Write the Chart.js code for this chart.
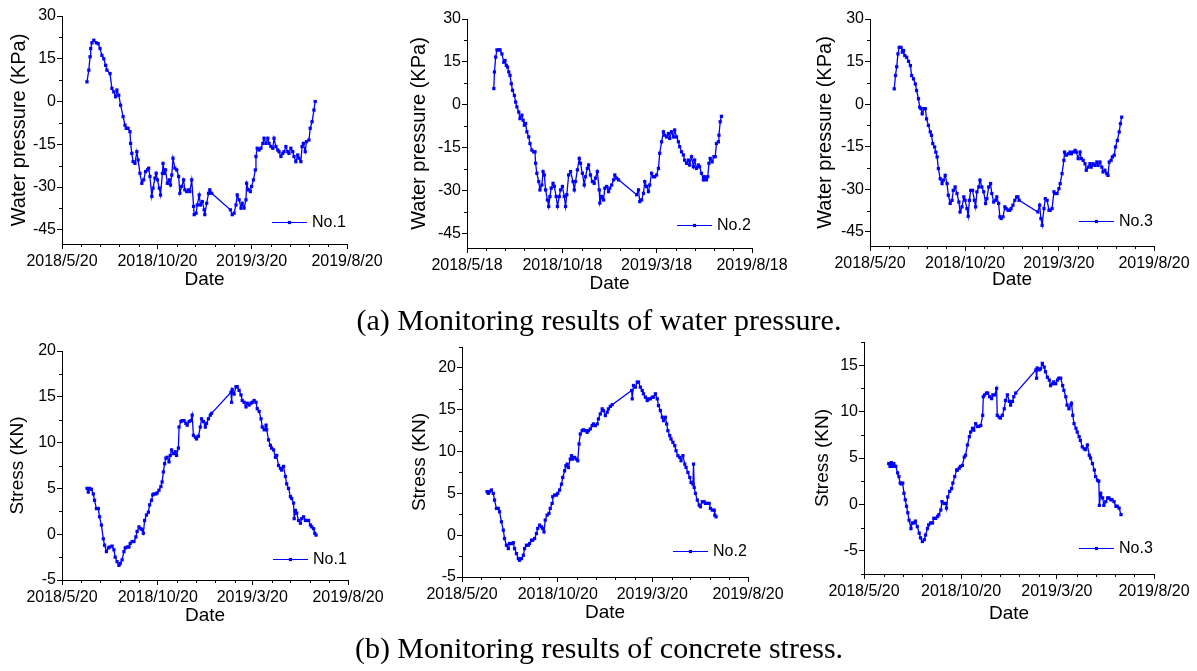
<!DOCTYPE html>
<html>
<head>
<meta charset="utf-8">
<title>Monitoring results</title>
<script src="https://cdn.jsdelivr.net/npm/chart.js@4.4.1/dist/chart.umd.min.js"></script>
<style>
  html, body { margin:0; padding:0; background:#fff; }
  body { width:1197px; height:671px; position:relative; overflow:hidden; }
  canvas { position:absolute; }
  .cap { position:absolute; left:0; width:1198px; text-align:center; font-family:"Liberation Serif","Times New Roman",serif; font-size:30px; line-height:30px; color:#000; white-space:nowrap; }
</style>
</head>
<body>
<canvas id="c1"></canvas>
<canvas id="c2"></canvas>
<canvas id="c3"></canvas>
<canvas id="c4"></canvas>
<canvas id="c5"></canvas>
<canvas id="c6"></canvas>
<div class="cap" style="top:305px">(a) Monitoring results of water pressure.</div>
<div class="cap" style="top:633px">(b) Monitoring results of concrete stress.</div>
<script>
// ---------- tick labels ----------
const ticks520 = ['2018/5/20','2018/10/20','2019/3/20','2019/8/20'];
const ticks518 = ['2018/5/18','2018/10/18','2019/3/18','2019/8/18'];
const wpTicks  = [-45,-30,-15,0,15,30];
const st1Ticks = [-5,0,5,10,15,20];
const st2Ticks = [-5,0,5,10,15,20];
const st3Ticks = [-5,0,5,10,15];

// ---------- data (x = days after 2018/5/20) ----------
const wp1Days = [40,43,45,46,48,51,55,58,61,64,67,70,72,77,80,83,86,88,91,94,98,101,103,106,109,110,112,114,117,120,122,125,128,131,134,137,139,141,144,146,149,151,153,156,158,161,162,164,166,169,172,174,176,178,181,184,187,189,192,195,197,200,203,205,208,211,212,215,217,220,222,225,228,229,232,235,237,240,270,273,276,279,281,284,287,289,292,295,296,299,302,304,307,310,311,313,316,319,322,324,327,330,332,335,338,340,343,346,348,351,354,356,359,362,364,367,370,372,375,378,380,383,385,387,390,392,396,398,401,404,406];
const wp1 = [6.9,11,15.7,18.6,20.6,21.5,20.6,20.3,18.6,16.2,15,12.7,11,9.8,4.6,3.4,1.7,4,2.2,-1.3,-5.3,-8.3,-9.4,-9.4,-10.6,-14.7,-18.2,-21.1,-21.7,-17.6,-20.5,-25.2,-28.7,-27.5,-24.6,-24,-23.4,-26.3,-33.3,-30.4,-26.9,-25.2,-27.5,-30.4,-32.8,-25.2,-21.7,-25.2,-24,-28.7,-27.5,-29.3,-25.8,-19.9,-23.4,-24,-26.3,-32.2,-29.8,-27.5,-31,-31.6,-31,-31.6,-27.5,-36.8,-39.7,-39.2,-36.3,-32.8,-36.3,-35.1,-38,-39.7,-35.7,-32.2,-31,-32.2,-38,-39.7,-39.2,-36.3,-32.8,-34.5,-37.4,-35.7,-37.4,-34.5,-28.7,-31,-31.6,-29.8,-27.5,-24,-19.3,-16.4,-17,-16.4,-14.7,-12.9,-14.7,-12.9,-14.7,-15.8,-16.4,-12.9,-15.8,-17,-17.6,-19.3,-18.2,-17.6,-15.8,-17.6,-18.2,-16.4,-17.6,-19.3,-21.1,-18.8,-19.9,-21.1,-15.8,-14.7,-17.6,-14.1,-13.5,-9.4,-7.1,-3,0];

const wp2Days = [41,42,44,46,49,51,54,57,59,61,63,65,67,69,71,74,76,78,81,83,86,88,90,92,94,97,99,102,105,107,108,110,113,115,118,120,122,124,127,129,131,133,136,138,141,143,146,148,151,154,156,158,161,164,168,170,172,175,178,180,183,186,188,191,193,196,199,202,204,207,210,211,214,217,219,222,225,227,230,233,235,238,241,270,273,275,278,281,283,286,289,291,294,297,299,302,305,307,310,313,315,318,321,323,326,329,331,334,337,339,342,345,347,350,353,355,358,361,363,366,369,371,374,377,379,382,384,386,388,391,394,396,398,401,402,404,406];
const wp2 = [5.7,11.5,16.7,19.2,19.2,19.2,17.8,14.9,15.5,13.8,13.2,11.5,10.3,7.4,5.1,3.3,1,-0.7,-2.5,-4.8,-3.6,-5.4,-7.1,-6.5,-9.4,-11.2,-13.5,-15.8,-16.4,-16.4,-20.4,-23.9,-26.8,-29.7,-28,-23.3,-24.5,-29.7,-33.2,-35.5,-32,-29.1,-27.4,-28.5,-32,-35.5,-32,-29.7,-28.5,-32,-35.5,-31.4,-24.5,-23.3,-26.8,-29.7,-26.8,-22.7,-18.7,-20.4,-23.9,-28,-25.1,-22.2,-21,-24.5,-26.8,-27.4,-25.6,-23.3,-29.7,-34.3,-32,-33.2,-29.1,-28.5,-30.3,-29.1,-28,-26.2,-24.5,-25.6,-26.2,-31.4,-29.7,-33.8,-33.2,-30.9,-26.8,-28.5,-30.3,-28,-23.9,-25.1,-25.1,-24.5,-22.2,-16.9,-12.9,-9.4,-10.6,-11.2,-10,-11.7,-9.4,-11.2,-8.8,-11.2,-12.9,-14.6,-16.4,-17.5,-19.3,-20.4,-19.3,-21,-18.1,-21.6,-19.3,-22.2,-21,-21.6,-23.9,-26.2,-25.1,-26.2,-25.1,-20.4,-18.7,-19.9,-18.1,-18.1,-13.5,-12.9,-10.6,-5.9,-4];

const wp3Days = [39,41,43,45,47,50,52,54,56,59,62,65,67,70,73,75,78,80,82,84,87,89,91,94,97,99,101,104,106,108,110,113,116,118,121,124,126,129,132,134,137,140,143,145,148,151,153,156,158,160,162,165,168,170,172,175,177,180,183,186,188,191,194,196,199,202,204,207,209,211,214,217,219,222,225,227,230,233,236,238,240,270,273,275,277,280,282,285,288,290,293,296,298,301,304,306,309,312,313,316,319,322,324,327,330,332,335,338,340,343,346,348,351,354,356,359,362,365,367,370,373,375,378,381,383,385,388,390,393,395,398,401,403,405];
const wp3 = [5.4,10.1,13.2,17.7,20,20,18.3,18.9,17.1,16.5,15.1,13.6,10.1,8.9,7.1,4.8,1.9,-1.1,-1.6,-3.4,-1.6,-1.6,-5.2,-7.5,-9.8,-11,-13.9,-15.1,-16.9,-18.6,-22.7,-26.3,-28,-26.8,-25.1,-28,-32.1,-35,-33.9,-30.4,-29.2,-31.5,-34.5,-38,-36.2,-32.7,-33.9,-36.8,-39.5,-33.9,-30.4,-30.4,-33.9,-36.2,-30.9,-29.2,-26.8,-29.2,-30.9,-35,-33.3,-29.2,-28,-31.5,-34.5,-33.9,-32.7,-35,-39.7,-40.3,-39.7,-36.2,-36.8,-37.4,-37.4,-36.8,-35.6,-33.9,-32.7,-32.7,-33.9,-38,-35.6,-40.3,-42.7,-36.8,-33.3,-33.9,-37.4,-37.4,-36.8,-30.9,-31.5,-31.5,-29.8,-28,-24.5,-19.8,-16.9,-18,-17.5,-16.9,-17.5,-16.9,-16.3,-16.9,-19.2,-16.9,-19.2,-19.8,-21,-23.3,-22.2,-21,-22.2,-21,-21.6,-20.4,-21.6,-20.4,-22.2,-23.9,-23.3,-24.5,-25.1,-20.4,-19.8,-18.6,-18,-15.1,-12.8,-9.8,-6.9,-4.6];

const st1Days = [40,42,44,47,50,52,55,58,60,63,66,68,71,74,76,80,83,85,88,91,93,96,99,101,104,107,109,112,115,118,120,123,126,128,130,132,135,138,140,143,145,147,150,152,155,158,160,162,164,166,168,171,173,175,178,181,183,186,187,190,192,195,198,200,203,206,208,210,213,215,218,221,223,226,229,231,234,237,239,270,271,272,275,278,280,283,286,288,291,294,296,299,302,304,307,310,312,315,318,320,323,326,327,330,333,335,338,341,343,346,349,351,354,357,359,362,365,367,370,371,373,375,378,381,383,386,389,391,394,397,399,402,404,406];
const st1 = [5,4.6,5,4.9,4.4,3.7,2.8,2.8,1.9,1,-0.5,-1.2,-1.9,-1.5,-1.4,-1.3,-1.7,-2.5,-3,-3.4,-3.2,-2.8,-1.9,-1.5,-1.4,-1.4,-1,-0.8,-0.8,-0.3,0.3,0.8,0.6,0.5,0.1,1.5,2.1,2.4,3.2,3.7,4.3,4.4,4.4,4.5,4.8,5.2,5.7,6.8,7.7,8.3,8.4,7.9,8.6,9.2,8.8,9,8.6,9.4,11.7,12.3,12.4,12.4,12.1,11.9,12.3,12.4,13,10.8,10.6,10.4,10.7,11.7,12.6,12.3,11.7,12.1,12.6,13,13.2,15.5,14.4,15.8,15.3,16.1,16.1,15.7,15.2,14.6,14.4,13.9,14.3,14.1,14.3,14.4,14.6,14.4,13.7,13.4,12.6,11.7,11.4,11.9,11.4,10.3,9.7,9.4,9.2,8.4,8.6,7.5,7.2,7,7.4,6.3,5.5,5,4.1,3.9,3.4,1.7,2.6,2.3,1.5,1.2,1.7,1.9,1.5,1.5,1.5,1,0.8,0.6,0.1,-0.1];

const st2Days = [40,42,44,47,50,52,55,58,60,63,66,68,71,74,76,79,82,84,87,90,92,95,98,100,103,106,108,111,113,116,119,121,124,127,129,131,133,136,139,141,144,145,148,151,153,156,159,161,164,166,168,170,173,175,177,180,183,185,187,189,192,194,197,200,202,205,208,210,213,216,218,221,224,226,229,232,234,237,240,271,272,274,277,280,282,285,288,290,293,296,298,301,304,306,309,312,314,317,320,322,325,327,329,332,334,337,340,342,345,348,350,353,356,358,361,364,366,369,370,371,373,376,379,381,384,387,389,392,395,397,400,403,404,406];
const st2 = [5.2,5,5.2,5.4,5,4.2,3.2,3.2,2.8,1.6,0.6,-0.4,-1.2,-1.6,-1,-1,-0.9,-1.6,-2.2,-2.8,-3,-2.8,-2.4,-1.6,-1.2,-1.2,-1,-0.6,-0.6,-0.4,0.2,0.8,1.2,1,0.8,0.4,1.8,2.4,2.6,3.2,3.8,4.6,4.8,4.8,5,5.4,6.1,6.9,7.7,8.3,8.5,8.1,9.1,9.5,9.1,9.3,9.1,8.9,10.9,12.1,12.5,12.6,12.5,12.3,12.5,12.7,13.1,13.3,13.1,13.3,13.9,14.5,15.1,14.9,14.3,14.7,15.1,15.4,15.6,17.3,16.3,17.9,17.7,18.3,18.3,17.7,17.3,16.9,16.5,16.1,16.3,16.3,16.5,16.5,16.9,16.3,15.5,14.9,14.1,13.7,14.1,13.3,12.5,11.9,11.5,11.1,10.7,10.1,9.5,9.3,8.9,9.5,8.5,8.1,7.5,6.9,6.3,6.1,8.5,5.7,5,4.2,3.6,3.4,4,4,3.8,3.8,3.8,3.2,3,3,2.4,2.2];

const st3Days = [39,41,43,45,47,50,53,55,57,59,61,63,65,67,69,71,74,76,79,81,84,87,89,92,95,97,100,102,105,108,110,113,116,118,121,123,126,129,130,132,135,138,140,143,146,147,150,152,155,158,160,163,166,168,171,173,176,179,181,184,187,188,190,193,195,198,201,203,206,209,210,213,215,218,221,223,226,229,231,234,236,239,271,272,273,276,278,281,284,286,289,292,294,297,299,302,305,307,310,313,315,318,320,323,326,327,329,331,334,336,339,341,344,347,349,352,355,357,360,363,365,368,370,371,373,376,378,381,384,386,389,391,394,397,399,402,405];
const st3 = [4.4,4.1,4.5,4.1,4.4,4.1,3.4,3,2.3,2.2,2.3,1.2,0.5,-0.2,-0.9,-1.7,-2.6,-2,-2,-1.8,-2.4,-3.1,-3.6,-4,-3.8,-3.3,-2.6,-2.2,-2,-2,-1.5,-1.5,-1.3,-1.1,-0.6,0.3,0.1,0.1,-0.4,0.8,1.4,1.7,2.3,3,3.7,3.7,3.9,4.1,4.2,5.1,5.3,6.4,7.3,7.8,8.2,8,8.7,8.4,8.4,8.5,9.6,11.6,11.8,12,12,11.6,11.4,11.8,11.8,12.5,9.6,9.4,9.3,9.6,10.3,11.2,11.8,11.1,10.7,11.1,11.6,12,14.5,13.6,14.7,14.5,14.6,15.2,14.8,14.3,13.7,13.4,12.8,13,13.2,13,13.4,13.6,13.6,12.8,12.3,11.6,10.7,10.3,10.7,10.9,9.6,8.7,8.2,7.8,7.3,6.9,6.2,6,5.9,6.4,5.3,5,4.4,3.7,3,2.6,2.5,-0.1,1.2,0.7,-0.1,0.3,0.7,0.7,0.5,0.5,0.3,-0.2,-0.2,-0.4,-1.1];

// ---------- helpers ----------
const BLUE = '#0000ff';
const SANS = '"Liberation Sans", Arial, Helvetica, sans-serif';
Chart.defaults.font.family = SANS;
Chart.defaults.color = '#000';

function parseDate(s){ const [y,m,d] = s.split('/').map(Number); return [y,m,d]; }
function dayOf(s){ const [y,m,d] = parseDate(s); return (Date.UTC(y,m-1,d) - Date.UTC(2018,4,20)) / 864e5; }
function monthlyDays(a, b){
  const [y0,m0,d0] = parseDate(a); const end = dayOf(b); const out = [];
  for (let k = 0; ; k++) {
    const t = (Date.UTC(y0, m0-1+k, d0) - Date.UTC(2018,4,20)) / 864e5;
    if (t > end + 0.5) break; out.push(t);
  }
  return out;
}

// ---------- panel layout ----------
const panels = [
  { id:'c1', days:wp1Days, vals:wp1, name:'No.1', xLabels:ticks520, yTicks:wpTicks, yMin:-50, yMax:30,
    yTitle:'Water pressure (KPa)', yTitleSize:20, box:{x:0,y:0,w:399,h:300}, area:{l:62,t:16,r:347,b:244},
    yTitleMid:19.2, xTitleMid:280, legendDy:22 },
  { id:'c2', days:wp2Days, vals:wp2, name:'No.2', xLabels:ticks518, yTicks:wpTicks, yMin:-50, yMax:30,
    yTitle:'Water pressure (KPa)', yTitleSize:20, box:{x:399,y:0,w:399,h:300}, area:{l:467,t:19,r:752,b:248},
    yTitleMid:419.9, xTitleMid:283.5, legendDy:23 },
  { id:'c3', days:wp3Days, vals:wp3, name:'No.3', xLabels:ticks520, yTicks:wpTicks, yMin:-50, yMax:30,
    yTitle:'Water pressure (KPa)', yTitleSize:20, box:{x:798,y:0,w:399,h:300}, area:{l:870,t:19,r:1154,b:246},
    yTitleMid:825.2, xTitleMid:280, legendDy:25 },
  { id:'c4', days:st1Days, vals:st1, name:'No.1', xLabels:ticks520, yTicks:st1Ticks, yMin:-5, yMax:20,
    yTitle:'Stress (KN)', yTitleSize:19, box:{x:0,y:330,w:399,h:310}, area:{l:62,t:351,r:348,b:580},
    yTitleMid:17.5, xTitleMid:615.5, legendDy:21 },
  { id:'c5', days:st2Days, vals:st2, name:'No.2', xLabels:ticks520, yTicks:st2Ticks, yMin:-5, yMax:22.5,
    yTitle:'Stress (KN)', yTitleSize:19, box:{x:399,y:330,w:399,h:310}, area:{l:462,t:347,r:748,b:577},
    yTitleMid:420, xTitleMid:612.5, legendDy:26 },
  { id:'c6', days:st3Days, vals:st3, name:'No.3', xLabels:ticks520, yTicks:st3Ticks, yMin:-7.5, yMax:17.5,
    yTitle:'Stress (KN)', yTitleSize:19, box:{x:798,y:330,w:399,h:310}, area:{l:864,t:342,r:1154,b:574},
    yTitleMid:822.8, xTitleMid:613.5, legendDy:26 }
];

function build(p){
  const cv = document.getElementById(p.id);
  cv.width = p.box.w; cv.height = p.box.h;
  cv.style.left = p.box.x + 'px'; cv.style.top = p.box.y + 'px';
  cv.style.width = p.box.w + 'px'; cv.style.height = p.box.h + 'px';

  const majorX = p.xLabels.map(dayOf);
  const minorX = monthlyDays(p.xLabels[0], p.xLabels[p.xLabels.length-1]).filter(d => !majorX.includes(d));
  const step = p.yTicks[1] - p.yTicks[0];
  const minorY = [];
  for (let v = p.yTicks[0] - step/2; v >= p.yMin - 1e-9; v -= step) minorY.push(v);
  for (let i = 0; i < p.yTicks.length-1; i++) minorY.push(p.yTicks[i] + step/2);
  for (let v = p.yTicks[p.yTicks.length-1] + step/2; v <= p.yMax + 1e-9; v += step) minorY.push(v);

  const yW = p.area.l - p.box.x;
  const xH = p.box.y + p.box.h - p.area.b;
  const xTitleSize = 19;

  const minorPlugin = {
    id: 'minorTicks',
    afterDraw(chart){
      const {ctx, chartArea:a, scales} = chart;
      ctx.save(); ctx.strokeStyle = '#000'; ctx.lineWidth = 1; ctx.beginPath();
      minorX.forEach(d => { const px = Math.round(scales.x.getPixelForValue(d)) + 0.5; ctx.moveTo(px, a.bottom); ctx.lineTo(px, a.bottom + 3); });
      minorY.forEach(v => { const py = Math.round(scales.y.getPixelForValue(v)) + 0.5; ctx.moveTo(a.left - 3, py); ctx.lineTo(a.left, py); });
      ctx.stroke(); ctx.restore();
    }
  };
  const legendPlugin = {
    id: 'insideLegend',
    afterDraw(chart){
      const {ctx, chartArea:a} = chart;
      const y = Math.round(a.bottom - p.legendDy) + 0.5, x0 = a.right - 75;
      ctx.save();
      ctx.strokeStyle = BLUE; ctx.lineWidth = 1.2;
      ctx.beginPath(); ctx.moveTo(x0, y); ctx.lineTo(x0 + 35, y); ctx.stroke();
      ctx.fillStyle = BLUE; ctx.fillRect(x0 + 17.5 - 1.6, y - 1.6, 3.2, 3.2);
      ctx.fillStyle = '#000'; ctx.font = '16px ' + SANS; ctx.textBaseline = 'middle'; ctx.textAlign = 'left';
      ctx.fillText(p.name, x0 + 40, y);
      ctx.restore();
    }
  };

  new Chart(cv, {
    type: 'line',
    data: { datasets: [{
      label: p.name,
      data: p.days.map((d, i) => ({ x: d, y: p.vals[i] })),
      borderColor: BLUE, backgroundColor: BLUE, borderWidth: 1.3,
      pointStyle: 'rect', pointRadius: 2.3, pointBorderWidth: 0, pointBackgroundColor: BLUE,
      tension: 0, fill: false
    }]},
    options: {
      responsive: false, animation: false,
      layout: { padding: { left: 0, top: p.area.t - p.box.y, right: p.box.x + p.box.w - p.area.r, bottom: 0 } },
      plugins: { legend: { display: false }, tooltip: { enabled: false } },
      scales: {
        x: {
          type: 'linear', min: majorX[0], max: majorX[majorX.length-1],
          afterBuildTicks: s => { s.ticks = majorX.map(v => ({ value: v })); },
          afterFit: s => { s.height = xH; },
          ticks: { autoSkip: false, maxRotation: 0, minRotation: 0, padding: 3, color: '#000',
                   font: { size: 16 }, callback: (v, i) => p.xLabels[i] },
          grid: { drawOnChartArea: false, drawTicks: true, tickLength: 5, color: '#000', lineWidth: 1 },
          border: { display: true, color: '#000', width: 1 },
          title: { display: true, text: 'Date', color: '#000', font: { size: xTitleSize },
                   padding: { top: 0, bottom: (p.box.y + p.box.h) - xTitleSize*0.6 - p.xTitleMid } }
        },
        y: {
          type: 'linear', min: p.yMin, max: p.yMax,
          afterBuildTicks: s => { s.ticks = p.yTicks.map(v => ({ value: v })); },
          afterFit: s => { s.width = yW; },
          ticks: { autoSkip: false, padding: 1, color: '#000', font: { size: 16 } },
          grid: { drawOnChartArea: false, drawTicks: true, tickLength: 5, color: '#000', lineWidth: 1 },
          border: { display: true, color: '#000', width: 1 },
          title: { display: true, text: p.yTitle, color: '#000', font: { size: p.yTitleSize },
                   padding: { top: p.yTitleMid - p.box.x - p.yTitleSize*0.6, bottom: 0 } }
        }
      }
    },
    plugins: [minorPlugin, legendPlugin]
  });
}

panels.forEach(build);
</script>
</body>
</html>
